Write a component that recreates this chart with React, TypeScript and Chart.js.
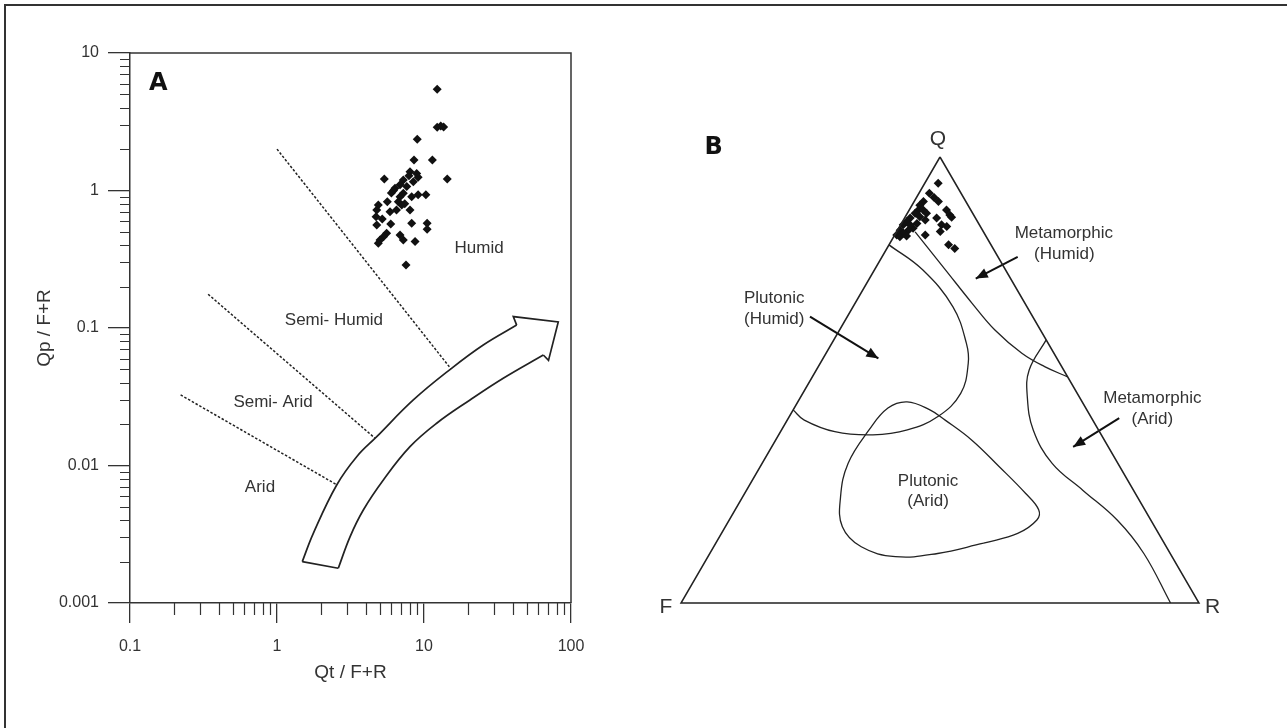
import React, { useEffect, useRef } from "react";
import { Chart, registerables } from "chart.js";
Chart.register(...registerables);

const FONT = '"Liberation Sans", Arial, sans-serif';
const BOLDFONT = '"DejaVu Sans", "Liberation Sans", Arial, sans-serif';
const INK = "#222";
const TEXT = "#333";

// ---------------- Panel A (log–log) ----------------
const xTicksA = [0.1, 1, 10, 100];
const xTickLabelsA = ["0.1", "1", "10", "100"];
const yTicksA = [0.001, 0.01, 0.1, 1, 10];
const yTickLabelsA = ["0.001", "0.01", "0.1", "1", "10"];

// samples: Qt/F+R (x) and Qp/F+R (y)
const sampleQtFR = [
  12.3, 12.3, 13.0, 13.6, 9.0, 8.55, 11.4, 14.4, 5.37, 8.03, 8.92, 9.12, 7.23, 6.87, 6.35, 6.2,
  8.46, 7.63, 7.23, 6.87, 8.25, 9.12, 10.3, 5.63, 4.89, 4.77, 4.72, 6.69, 7.06, 5.87, 6.5, 8.03,
  4.77, 5.94, 8.25, 10.5, 10.5, 5.57, 5.3, 5.02, 4.89, 6.87, 7.23, 8.69, 7.54, 7.9, 6.0, 7.4, 5.2,
];
const sampleQpFR = [
  5.45, 2.88, 2.94, 2.9, 2.36, 1.67, 1.67, 1.21, 1.21, 1.37, 1.33, 1.25, 1.19, 1.1, 1.04, 1.0,
  1.16, 1.07, 0.954, 0.9, 0.9, 0.93, 0.93, 0.83, 0.785, 0.72, 0.645, 0.83, 0.785, 0.7, 0.72, 0.72,
  0.561, 0.57, 0.577, 0.577, 0.522, 0.488, 0.461, 0.437, 0.413, 0.475, 0.437, 0.425, 0.287, 1.28, 0.96, 0.8, 0.62,
];

// dotted climate boundaries [x, y]
const humidBoundary = [[1.0, 2.0], [15.2, 0.0507]];
const semiHumidBoundary = [[0.34, 0.176], [4.64, 0.0158]];
const semiAridBoundary = [[0.221, 0.0326], [2.57, 0.00721]];

// curved arrow outline [x, y]
const arrowUpper = [
  [1.486, 0.002], [1.766, 0.00321], [2.547, 0.00721], [3.485, 0.01159], [4.77, 0.0162],
  [8.46, 0.02996], [15.4, 0.0509], [25.3, 0.0752], [42.7, 0.105],
];
const arrowHead = [[42.7, 0.105], [40.5, 0.121], [81.9, 0.1106], [70.3, 0.0581], [64.8, 0.0636]];
const arrowLower = [
  [64.8, 0.0636], [34.6, 0.0431], [20.56, 0.02996], [12.2, 0.0203], [8.03, 0.0137],
  [5.29, 0.00785], [3.865, 0.00475], [3.138, 0.00303], [2.612, 0.00179],
];
const arrowTail = [[2.612, 0.00179], [1.486, 0.002]];

const regionLabelsA = [
  { text: "Humid", x: 23.7, y: 0.382 },
  { text: "Semi- Humid", x: 2.44, y: 0.1143 },
  { text: "Semi- Arid", x: 0.94, y: 0.029 },
  { text: "Arid", x: 0.766, y: 0.00698 },
];
const panelLetterA = { text: "A", x: 0.156, y: 6.0 };

// ---------------- Panel B (ternary Q-F-R) ----------------
// [Q, F, R] percentages
const samplesQFR = [
  [94.1, 3.3, 2.6], [91.9, 6.1, 2.0], [90.9, 5.7, 3.4], [90.0, 5.3, 4.7], [90.0, 8.2, 1.8],
  [89.2, 9.3, 1.5], [88.1, 10.1, 1.8], [87.4, 11.1, 1.5], [86.3, 12.6, 1.1], [85.5, 13.7, 0.8],
  [84.8, 14.7, 0.5], [83.6, 15.9, 0.5], [82.5, 17.1, 0.4], [88.1, 9.2, 2.7], [87.4, 8.9, 3.7],
  [86.6, 10.6, 2.8], [85.9, 9.9, 4.2], [85.1, 11.9, 3.0], [84.0, 13.2, 2.8], [83.6, 14.3, 2.1],
  [82.9, 15.6, 1.5], [84.8, 13.4, 1.8], [88.1, 4.7, 7.2], [87.0, 4.6, 8.4], [86.5, 4.5, 9.0],
  [86.3, 7.5, 6.2], [84.8, 7.3, 7.9], [84.4, 6.5, 9.1], [83.3, 8.3, 8.4], [82.5, 11.6, 5.9],
  [80.3, 8.2, 11.5], [79.5, 7.4, 13.1], [82.1, 16.7, 1.2], [82.3, 15.3, 2.4],
];
const triangleQFR = [[100, 0, 0], [0, 100, 0], [0, 0, 100], [100, 0, 0]];
const plutonicHumidQFR = [
  [80.3, 19.7, 0], [74.7, 16.0, 9.3], [66.4, 14.3, 19.3], [58.2, 15.8, 26.0], [53.7, 17.7, 28.6],
  [47.0, 22.5, 30.5], [41.8, 29.5, 28.7], [38.8, 36.9, 24.3], [37.7, 44.1, 18.2], [38.4, 51.1, 10.5],
  [41.0, 55.7, 3.3], [43.3, 56.7, 0],
];
const metamorphicHumidQFR = [
  [83.2, 13.2, 3.6], [74.7, 11.6, 13.7], [67.2, 10.2, 22.6], [61.2, 8.8, 30.0], [56.0, 6.2, 37.8],
  [53.0, 3.3, 43.7], [50.7, 0, 49.3],
];
const metamorphicAridQFR = [
  [59.0, 0, 41.0], [52.2, 6.7, 41.1], [46.3, 10.0, 43.7], [38.8, 12.6, 48.6], [31.3, 12.7, 56.0],
  [25.3, 9.8, 64.9], [18.6, 6.5, 74.9], [11.1, 5.1, 83.8], [0, 5.5, 94.5],
];
const plutonicAridQFR = [
  [13.4, 34.9, 51.7], [11.1, 44.9, 44.0], [10.4, 53.4, 36.2], [12.6, 58.9, 28.5], [17.1, 60.3, 22.6],
  [23.8, 57.3, 18.9], [31.3, 52.1, 16.6], [38.8, 44.3, 16.9], [43.7, 38.2, 18.1], [45.1, 33.8, 21.1],
  [43.3, 30.3, 26.4], [41.0, 28.5, 30.5], [36.5, 25.6, 37.9], [30.6, 23.3, 46.1], [24.6, 21.2, 54.2],
  [20.9, 20.5, 58.6], [18.6, 22.0, 59.4], [15.6, 27.2, 57.2], [13.4, 34.9, 51.7],
];
// arrows in plot units [u, v] : start -> end
const arrowsB = [
  [[24.9, 55.6], [38.1, 47.5]],
  [[65.0, 67.2], [56.9, 63.0]],
  [[84.6, 35.9], [75.7, 30.3]],
];
const labelsB = [
  { text: "Metamorphic", u: 73.9, v: 71.7 },
  { text: "(Humid)", u: 74.0, v: 67.7 },
  { text: "Plutonic", u: 18.0, v: 59.2 },
  { text: "(Humid)", u: 18.0, v: 55.0 },
  { text: "Metamorphic", u: 91.0, v: 39.7 },
  { text: "(Arid)", u: 91.0, v: 35.6 },
  { text: "Plutonic", u: 47.7, v: 23.6 },
  { text: "(Arid)", u: 47.7, v: 19.7 },
];
const vertexLabelsB = [
  { text: "Q", u: 49.6, v: 90.1 },
  { text: "F", u: -2.9, v: -0.8 },
  { text: "R", u: 102.6, v: -0.8 },
];
const panelLetterB = { text: "B", u: 6.3, v: 88.3 };

const SQ = Math.sqrt(3) / 2;
const tern = (t: number[]) => {
  const s = t[0] + t[1] + t[2];
  const q = (t[0] / s) * 100;
  const r = (t[2] / s) * 100;
  return { x: r + q / 2, y: q * SQ };
};
const toPts = (arr: number[][]) => arr.map(([x, y]) => ({ x, y }));

function text(ctx: CanvasRenderingContext2D, s: string, x: number, y: number, font: string, color = TEXT) {
  ctx.save();
  ctx.font = font;
  ctx.fillStyle = color;
  ctx.textAlign = "center";
  ctx.textBaseline = "middle";
  ctx.fillText(s, x, y);
  ctx.restore();
}

const lineDs = (data: any[], extra: any = {}) => ({
  type: "line",
  data,
  showLine: true,
  borderColor: INK,
  backgroundColor: INK,
  borderWidth: 1.3,
  pointRadius: 0,
  fill: false,
  clip: false,
  ...extra,
});

const panelAPlugin = {
  id: "panelA",
  afterDraw(chart: any) {
    const { ctx, chartArea: a, scales } = chart;
    const x = scales.x;
    const y = scales.y;
    ctx.save();
    ctx.strokeStyle = "#333";
    ctx.lineWidth = 1.5;
    ctx.beginPath();
    ctx.moveTo(a.left, a.top);
    ctx.lineTo(a.right, a.top);
    ctx.lineTo(a.right, a.bottom);
    ctx.stroke();
    ctx.lineWidth = 1.2;
    ctx.beginPath();
    for (let d = 0; d < xTicksA.length - 1; d++) {
      for (let m = 2; m <= 9; m++) {
        const px = Math.round(x.getPixelForValue(xTicksA[d] * m)) + 0.5;
        ctx.moveTo(px, a.bottom);
        ctx.lineTo(px, a.bottom + 12);
      }
    }
    for (let d = 0; d < yTicksA.length - 1; d++) {
      for (let m = 2; m <= 9; m++) {
        const py = Math.round(y.getPixelForValue(yTicksA[d] * m)) + 0.5;
        ctx.moveTo(a.left - 10, py);
        ctx.lineTo(a.left, py);
      }
    }
    ctx.stroke();
    ctx.restore();
    regionLabelsA.forEach((l) =>
      text(ctx, l.text, x.getPixelForValue(l.x), y.getPixelForValue(l.y), `17px ${FONT}`)
    );
    text(ctx, panelLetterA.text, x.getPixelForValue(panelLetterA.x), y.getPixelForValue(panelLetterA.y), `bold 24px ${BOLDFONT}`, "#111");
  },
};

const panelBPlugin = {
  id: "panelB",
  afterDraw(chart: any) {
    const { ctx, scales } = chart;
    const x = scales.x;
    const y = scales.y;
    arrowsB.forEach(([s, e]) => {
      const sx = x.getPixelForValue(s[0]);
      const sy = y.getPixelForValue(s[1]);
      const ex = x.getPixelForValue(e[0]);
      const ey = y.getPixelForValue(e[1]);
      const ang = Math.atan2(ey - sy, ex - sx);
      const L = 12;
      const W = 5;
      ctx.save();
      ctx.fillStyle = "#111";
      ctx.beginPath();
      ctx.moveTo(ex, ey);
      ctx.lineTo(ex - L * Math.cos(ang) + W * Math.sin(ang), ey - L * Math.sin(ang) - W * Math.cos(ang));
      ctx.lineTo(ex - L * Math.cos(ang) - W * Math.sin(ang), ey - L * Math.sin(ang) + W * Math.cos(ang));
      ctx.closePath();
      ctx.fill();
      ctx.restore();
    });
    labelsB.forEach((l) => text(ctx, l.text, x.getPixelForValue(l.u), y.getPixelForValue(l.v), `17px ${FONT}`));
    vertexLabelsB.forEach((l) => text(ctx, l.text, x.getPixelForValue(l.u), y.getPixelForValue(l.v), `21px ${FONT}`));
    text(ctx, panelLetterB.text, x.getPixelForValue(panelLetterB.u), y.getPixelForValue(panelLetterB.v), `bold 24px ${BOLDFONT}`, "#111");
  },
};

export default function App() {
  const refA = useRef<HTMLCanvasElement>(null);
  const refB = useRef<HTMLCanvasElement>(null);

  useEffect(() => {
    const samples = sampleQtFR.map((v, i) => ({ x: v, y: sampleQpFR[i] }));
    const chartA = new Chart(refA.current as HTMLCanvasElement, {
      type: "scatter",
      data: {
        datasets: [
          lineDs(toPts(humidBoundary), { borderDash: [2.5, 1.8], borderWidth: 1.5 }),
          lineDs(toPts(semiHumidBoundary), { borderDash: [2.5, 1.8], borderWidth: 1.5 }),
          lineDs(toPts(semiAridBoundary), { borderDash: [2.5, 1.8], borderWidth: 1.5 }),
          lineDs(toPts(arrowUpper), { tension: 0.4, borderWidth: 1.7 }),
          lineDs(toPts(arrowHead), { borderWidth: 1.7 }),
          lineDs(toPts(arrowLower), { tension: 0.4, borderWidth: 1.7 }),
          lineDs(toPts(arrowTail), { borderWidth: 1.7 }),
          {
            type: "scatter",
            data: samples,
            pointStyle: "rectRot",
            pointRadius: 4.5,
            backgroundColor: "#111",
            borderColor: "#111",
            borderWidth: 0,
            clip: false,
          },
        ] as any,
      },
      options: {
        responsive: false,
        animation: false,
        devicePixelRatio: 1,
        events: [],
        layout: { padding: { left: 0, top: 53, right: 49, bottom: 40 } },
        plugins: { legend: { display: false }, tooltip: { enabled: false } },
        scales: {
          x: {
            type: "logarithmic",
            position: "bottom",
            min: 0.1,
            max: 100,
            afterBuildTicks: (s: any) => {
              s.ticks = xTicksA.map((v) => ({ value: v }));
            },
            afterFit: (s: any) => {
              s.height = 85;
              s.paddingLeft = 0;
              s.paddingRight = 0;
            },
            ticks: {
              autoSkip: false,
              maxRotation: 0,
              padding: 14,
              color: TEXT,
              font: { family: FONT, size: 16 },
              callback: (_v: any, i: number) => xTickLabelsA[i],
            },
            grid: { display: true, drawOnChartArea: false, drawTicks: true, tickLength: 20, color: "#333", lineWidth: 1.3 },
            border: { display: true, color: "#333", width: 1.5 },
            title: { display: true, text: "Qt / F+R", color: TEXT, font: { family: FONT, size: 19 }, padding: { top: 0, bottom: 4 } },
          },
          y: {
            type: "logarithmic",
            position: "left",
            min: 0.001,
            max: 10,
            afterBuildTicks: (s: any) => {
              s.ticks = yTicksA.map((v) => ({ value: v }));
            },
            afterFit: (s: any) => {
              s.width = 130;
              s.paddingTop = 0;
              s.paddingBottom = 0;
            },
            ticks: {
              autoSkip: false,
              padding: 9,
              color: TEXT,
              font: { family: FONT, size: 16 },
              callback: (_v: any, i: number) => yTickLabelsA[i],
            },
            grid: { display: true, drawOnChartArea: false, drawTicks: true, tickLength: 22, color: "#333", lineWidth: 1.3 },
            border: { display: true, color: "#333", width: 1.5 },
            title: { display: true, text: "Qp / F+R", color: TEXT, font: { family: FONT, size: 19 }, padding: { top: 33, bottom: 0 } },
          },
        },
      } as any,
      plugins: [panelAPlugin],
    });

    const chartB = new Chart(refB.current as HTMLCanvasElement, {
      type: "scatter",
      data: {
        datasets: [
          lineDs(triangleQFR.map(tern), { borderWidth: 1.5 }),
          lineDs(plutonicHumidQFR.map(tern), { tension: 0.4 }),
          lineDs(metamorphicHumidQFR.map(tern), { tension: 0.4 }),
          lineDs(metamorphicAridQFR.map(tern), { tension: 0.4 }),
          lineDs(plutonicAridQFR.map(tern), { tension: 0.4 }),
          ...arrowsB.map((a) => lineDs(toPts(a), { borderWidth: 2, borderColor: "#111" })),
          {
            type: "scatter",
            data: samplesQFR.map(tern),
            pointStyle: "rectRot",
            pointRadius: 4.5,
            backgroundColor: "#111",
            borderColor: "#111",
            borderWidth: 0,
            clip: false,
          },
        ] as any,
      },
      options: {
        responsive: false,
        animation: false,
        devicePixelRatio: 1,
        events: [],
        layout: { padding: { left: 61, top: 157, right: 88, bottom: 125 } },
        plugins: { legend: { display: false }, tooltip: { enabled: false } },
        scales: {
          x: { type: "linear", min: 0, max: 100, display: false },
          y: { type: "linear", min: 0, max: 100 * SQ, display: false },
        },
      } as any,
      plugins: [panelBPlugin],
    });

    return () => {
      chartA.destroy();
      chartB.destroy();
    };
  }, []);

  return (
    <div style={{ position: "fixed", left: 0, top: 0, width: 1287, height: 728, background: "#fff", overflow: "hidden" }}>
      <canvas ref={refA} width={620} height={728} style={{ position: "absolute", left: 0, top: 0 }} />
      <canvas ref={refB} width={667} height={728} style={{ position: "absolute", left: 620, top: 0 }} />
      <div style={{ position: "absolute", left: 4, top: 4, width: 1283, height: 2, background: "#333" }} />
      <div style={{ position: "absolute", left: 4, top: 4, width: 2, height: 724, background: "#333" }} />
    </div>
  );
}
